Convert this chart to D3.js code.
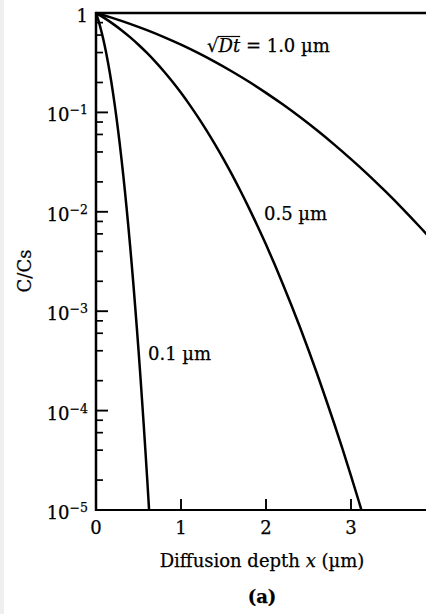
<!DOCTYPE html>
<html>
<head>
<meta charset="utf-8">
<script src="https://cdn.jsdelivr.net/npm/d3@7/dist/d3.min.js"></script>
<style>
  html, body { margin: 0; padding: 0; background: #ffffff; }
  svg { display: block; }
  text { font-family: "DejaVu Serif", "Liberation Serif", serif; fill: #000; stroke: #000; stroke-width: 0.25; }
</style>
</head>
<body>
<svg id="chart" width="426" height="614"></svg>
<script>
// Normalised concentration profiles C/Cs versus depth for three diffusion lengths.
const depth10 = [0, 0.2, 0.4, 0.6, 0.8, 1.0, 1.2, 1.4, 1.6, 1.8, 2.0, 2.2, 2.4, 2.6, 2.8, 3.0, 3.2, 3.4, 3.6, 3.8, 4.0];
const conc10  = [1, 0.8875, 0.7773, 0.6714, 0.5716, 0.4795, 0.3961, 0.3222, 0.2579, 0.2031, 0.1573,
                 0.1198, 0.0897, 0.0660, 0.0477, 0.0339, 0.0237, 0.0162, 0.0109, 0.0072, 0.00468];

const depth05 = [0, 0.1, 0.2, 0.3, 0.4, 0.5, 0.6, 0.7, 0.8, 0.9, 1.0, 1.1, 1.2, 1.3, 1.4, 1.5, 1.6,
                 1.7, 1.8, 1.9, 2.0, 2.1, 2.2, 2.3, 2.4, 2.5, 2.6, 2.7, 2.8, 2.9, 3.0, 3.1, 3.2];
const conc05  = [1, 0.8875, 0.7773, 0.6714, 0.5716, 0.4795, 0.3961, 0.3222, 0.2579, 0.2031, 0.1573,
                 0.1198, 0.0897, 0.0660, 0.0477, 0.0339, 0.0237, 0.0162, 0.0109, 0.0072, 0.00468,
                 0.00298, 0.00186, 0.00114, 0.000689, 0.000407, 0.000236, 0.000134, 0.0000750,
                 0.0000411, 0.0000221, 0.0000116, 0.00000603];

const depth01 = [0, 0.02, 0.04, 0.06, 0.08, 0.10, 0.12, 0.14, 0.16, 0.18, 0.20, 0.22, 0.24, 0.26, 0.28, 0.30, 0.32,
                 0.34, 0.36, 0.38, 0.40, 0.42, 0.44, 0.46, 0.48, 0.50, 0.52, 0.54, 0.56, 0.58, 0.60, 0.62, 0.64];
const conc01  = [1, 0.8875, 0.7773, 0.6714, 0.5716, 0.4795, 0.3961, 0.3222, 0.2579, 0.2031, 0.1573,
                 0.1198, 0.0897, 0.0660, 0.0477, 0.0339, 0.0237, 0.0162, 0.0109, 0.0072, 0.00468,
                 0.00298, 0.00186, 0.00114, 0.000689, 0.000407, 0.000236, 0.000134, 0.0000750,
                 0.0000411, 0.0000221, 0.0000116, 0.00000603];

const xTicks = [0, 1, 2, 3];
const yMajor = [1, 1e-1, 1e-2, 1e-3, 1e-4, 1e-5];
const yMajorExp = ["", "\u22121", "\u22122", "\u22123", "\u22124", "\u22125"];
const yMinorMantissa = [2, 4, 6, 8];
const curveLabels = ["0.5 \u00b5m", "0.1 \u00b5m"];

const W = 426, H = 614;
const plot = { left: 96, right: 426, top: 13, bottom: 510 };

const svg = d3.select("#chart");

// faint page edge on the far left
svg.append("rect").attr("x", 0).attr("y", 0).attr("width", 4).attr("height", H).attr("fill", "#efefef");

const x = d3.scaleLinear().domain([0, (plot.right - plot.left) / 85]).range([plot.left, plot.right]);
const y = d3.scaleLog().domain([1e-5, 1]).range([plot.bottom, plot.top]);

svg.append("clipPath").attr("id", "plotClip")
  .append("rect")
  .attr("x", plot.left).attr("y", plot.top - 2)
  .attr("width", plot.right - plot.left).attr("height", plot.bottom - plot.top + 2);

// minor y ticks (2, 4, 6, 8 of each decade), pointing inward
const minorVals = [];
for (let e = 0; e > -5; e--) {
  yMinorMantissa.forEach(m => minorVals.push(m * Math.pow(10, e - 1)));
}
svg.append("g").selectAll("line").data(minorVals).join("line")
  .attr("x1", plot.left).attr("x2", plot.left + 7)
  .attr("y1", d => y(d)).attr("y2", d => y(d))
  .attr("stroke", "#000").attr("stroke-width", 1.7);

// major y ticks
svg.append("g").selectAll("line").data(yMajor).join("line")
  .attr("x1", plot.left).attr("x2", plot.left + 12)
  .attr("y1", d => y(d)).attr("y2", d => y(d))
  .attr("stroke", "#000").attr("stroke-width", 1.9);

// y tick labels: 1, 10^-1 ... 10^-5
const yl = svg.append("g").selectAll("text").data(yMajor).join("text")
  .attr("x", 88).attr("y", d => y(d) + 9)
  .attr("text-anchor", "end")
  .attr("font-size", 18);
yl.each(function (d, i) {
  const t = d3.select(this);
  if (i === 0) { t.text("1"); return; }
  t.append("tspan").text("10");
  t.append("tspan").attr("dy", -7).attr("font-size", 12.5).text(yMajorExp[i]);
});

// x ticks pointing upward
svg.append("g").selectAll("line").data(xTicks.slice(1)).join("line")
  .attr("x1", d => x(d)).attr("x2", d => x(d))
  .attr("y1", plot.bottom).attr("y2", plot.bottom - 11)
  .attr("stroke", "#000").attr("stroke-width", 1.9);

svg.append("g").selectAll("text").data(xTicks).join("text")
  .attr("x", d => x(d)).attr("y", 534)
  .attr("text-anchor", "middle").attr("font-size", 18)
  .text(d => d);

// frame: left axis, bottom axis, top edge
svg.append("line").attr("x1", plot.left).attr("x2", plot.left)
  .attr("y1", plot.top - 1).attr("y2", plot.bottom + 1)
  .attr("stroke", "#000").attr("stroke-width", 2.5);
svg.append("line").attr("x1", plot.left - 1).attr("x2", plot.right)
  .attr("y1", plot.bottom).attr("y2", plot.bottom)
  .attr("stroke", "#000").attr("stroke-width", 2.1);
svg.append("line").attr("x1", plot.left - 1).attr("x2", plot.right)
  .attr("y1", plot.top).attr("y2", plot.top)
  .attr("stroke", "#000").attr("stroke-width", 2.3);

// profiles
const line = d3.line()
  .x(d => x(d[0])).y(d => y(d[1]))
  .curve(d3.curveMonotoneX);
const series = [
  d3.zip(depth10, conc10),
  d3.zip(depth05, conc05),
  d3.zip(depth01, conc01)
];
svg.append("g").attr("clip-path", "url(#plotClip)")
  .selectAll("path").data(series).join("path")
  .attr("d", line)
  .attr("fill", "none").attr("stroke", "#000").attr("stroke-width", 2.5)
  .attr("stroke-linejoin", "round");

// curve labels
const lab = svg.append("text").attr("x", 207).attr("y", 52).attr("font-size", 18);
lab.append("tspan").text("\u221a");
lab.append("tspan").attr("font-style", "italic").text("Dt");
lab.append("tspan").text(" = 1.0 \u00b5m");
{
  const node = lab.node();
  const e = node.getExtentOfChar(2);
  const root = node.getExtentOfChar(0);
  svg.append("line")
    .attr("x1", root.x + root.width - 1).attr("x2", e.x + e.width)
    .attr("y1", root.y + 1.5).attr("y2", root.y + 1.5)
    .attr("stroke", "#000").attr("stroke-width", 1.2);
}

svg.append("text").attr("x", 264).attr("y", 220).attr("font-size", 18).text(curveLabels[0]);
svg.append("text").attr("x", 148).attr("y", 360).attr("font-size", 18).text(curveLabels[1]);

// axis titles
svg.append("text")
  .attr("transform", "translate(31,271) rotate(-90)")
  .attr("text-anchor", "middle").attr("font-size", 18)
  .text("C/Cs");

const xt = svg.append("text").attr("x", 262).attr("y", 567)
  .attr("text-anchor", "middle").attr("font-size", 18);
xt.append("tspan").text("Diffusion depth ");
xt.append("tspan").attr("font-style", "italic").text("x");
xt.append("tspan").text(" (\u00b5m)");

svg.append("text").attr("x", 262).attr("y", 603)
  .attr("text-anchor", "middle").attr("font-size", 18).attr("font-weight", "bold")
  .text("(a)");
</script>
</body>
</html>
